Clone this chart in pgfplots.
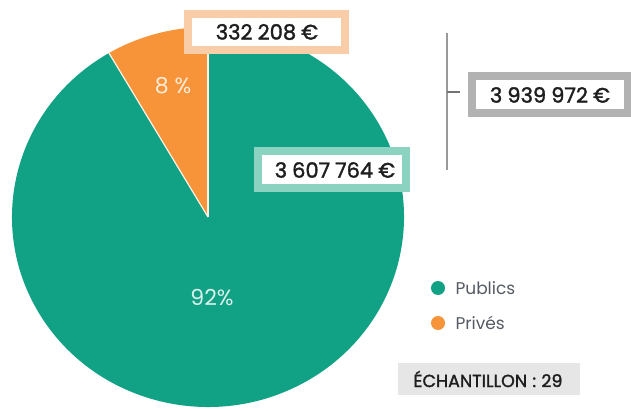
\documentclass[border=0pt]{standalone}
\usepackage{pgfplots}
\usepackage{pgfplotstable}
\pgfplotsset{compat=1.18}
\usepackage{fontspec}
\setmainfont{Poppins}
\newfontfamily\medfont[FakeBold=1.6]{Poppins}
\newcommand\nsp{\hspace{0.24em}}
\definecolor{teal1}{RGB}{17,161,133}
\definecolor{orng}{RGB}{247,148,58}
\definecolor{orngborder}{RGB}{249,205,168}
\definecolor{tealborder}{RGB}{140,210,192}
\definecolor{grayborder}{RGB}{178,178,178}
\definecolor{samplebg}{RGB}{230,230,230}
\definecolor{txt}{RGB}{30,30,30}
\definecolor{legtxt}{RGB}{85,90,100}

\pgfplotstableread{
cat value
Publics 3607764
Prives 332208
}\pietable

\begin{document}
\begin{tikzpicture}
\pgfplotstablegetelem{0}{value}\of\pietable \let\vPub\pgfplotsretval
\pgfplotstablegetelem{1}{value}\of\pietable \let\vPriv\pgfplotsretval
\pgfkeys{/pgf/fpu=true,/pgf/fpu/output format=fixed}
\pgfmathsetmacro\aPriv{90+360*\vPriv/(\vPub+\vPriv)}
\pgfkeys{/pgf/fpu=false}
\useasboundingbox (0,0) rectangle (631bp,411bp);
\begin{axis}[at={(0,0)}, anchor=south west, width=631bp, height=411bp,
  scale only axis, hide axis, xmin=0, xmax=631, ymin=0, ymax=411,
  y dir=reverse, clip=true]
% pie
\fill[teal1] (axis cs:208,217) -- ++(\aPriv:196bp and 190bp)
  arc[start angle=\aPriv, end angle=450, x radius=196bp, y radius=190bp] -- cycle;
\fill[orng] (axis cs:208,217) -- ++(0,190bp)
  arc[start angle=90, end angle=\aPriv, x radius=196bp, y radius=190bp] -- cycle;
\draw[white!90!orange, line width=1.2bp] (axis cs:208,217) -- ++(0,190bp);
\draw[white!90!orange, line width=1.2bp] (axis cs:208,217) -- ++(\aPriv:196bp and 190bp);
% percentages
\node[text=white!85!orange, font=\fontsize{22bp}{25bp}\selectfont] at (axis cs:173,86) {8 \%};
\node[text=white!85!teal1, font=\fontsize{22bp}{25bp}\selectfont] at (axis cs:212,298) {92\%};
% value boxes
\filldraw[fill=white, draw=orngborder, line width=8bp] (axis cs:188,14) rectangle (axis cs:345,50);
\node[text=txt, font=\medfont\fontsize{21bp}{24bp}\selectfont] at (axis cs:267,32) {332\nsp208\nsp€};
\filldraw[fill=white, draw=tealborder, line width=8bp] (axis cs:258,151) rectangle (axis cs:406,188);
\node[text=txt, font=\medfont\fontsize{21bp}{24bp}\selectfont] at (axis cs:335,170) {3\nsp607\nsp764\nsp€};
\filldraw[fill=white, draw=grayborder, line width=8bp] (axis cs:472,76) rectangle (axis cs:628,113);
\node[text=txt, font=\medfont\fontsize{21bp}{24bp}\selectfont] at (axis cs:550,95) {3\nsp939\nsp972\nsp€};
% bracket
\draw[gray!80, line width=2bp] (axis cs:447,33) -- (axis cs:447,170);
\draw[gray!90!black, line width=1.5bp] (axis cs:447,92) -- (axis cs:460,92);
% legend
\fill[teal1] (axis cs:438,288) circle[radius=7bp];
\fill[orng] (axis cs:438,323) circle[radius=7bp];
\node[anchor=west, text=legtxt, font=\fontsize{17bp}{20bp}\selectfont] at (axis cs:452,288) {Publics};
\node[anchor=west, text=legtxt, font=\fontsize{17bp}{20bp}\selectfont] at (axis cs:452,323) {Privés};
% sample
\fill[samplebg] (axis cs:398,363) rectangle (axis cs:580,395);
\node[text=txt, font=\medfont\fontsize{17.5bp}{21bp}\selectfont] at (axis cs:488,379) {ÉCHANTILLON\hspace{0.3em}:\hspace{0.3em}29};
\end{axis}
\end{tikzpicture}
\end{document}
